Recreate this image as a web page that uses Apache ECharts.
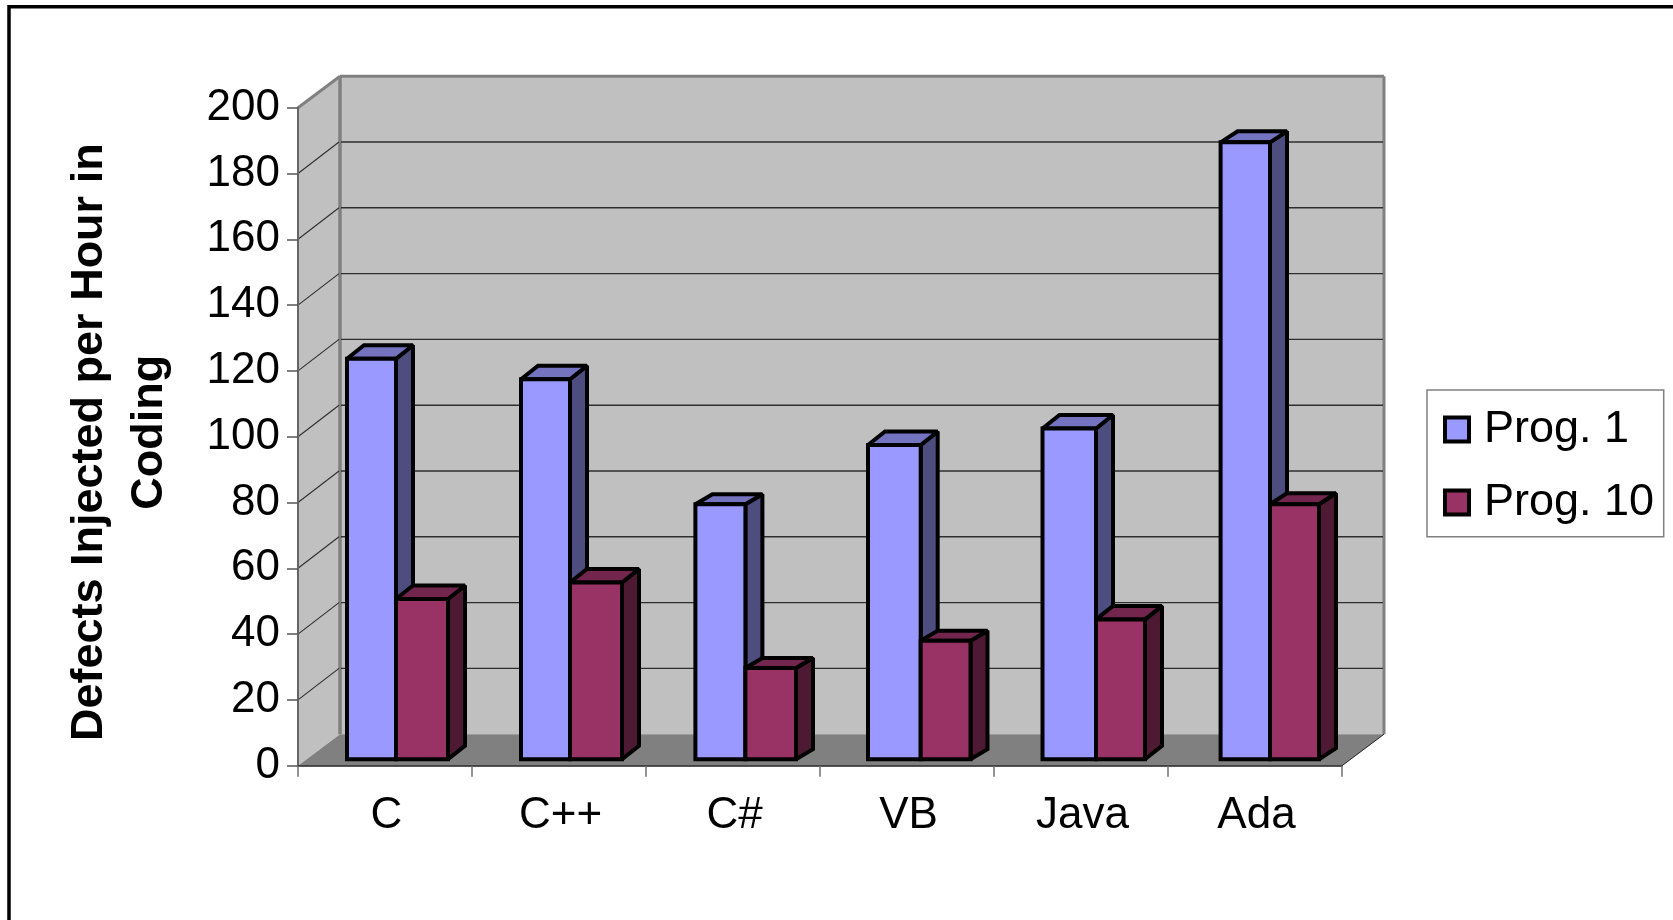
<!DOCTYPE html>
<html>
<head>
<meta charset="utf-8">
<title>Defects Injected per Hour in Coding</title>
<style>
  html, body { margin: 0; padding: 0; background: #fff; }
  #chart { width: 1673px; height: 920px; }
</style>
<script src="https://cdn.jsdelivr.net/npm/echarts@6/dist/echarts.min.js"></script>
</head>
<body>
<div id="chart"></div>
<script>
// Values per language
const categories = ['C', 'C++', 'C#', 'VB', 'Java', 'Ada'];
const prog1 = [121.7, 115.5, 77.5, 95.5, 100.5, 187.5];
const prog10 = [48.7, 53.7, 27.7, 36, 42.5, 77.5];
const yTicks = [0, 20, 40, 60, 80, 100, 120, 140, 160, 180, 200];

const FONT = '"Liberation Sans", Arial, sans-serif';
const WALL = '#C0C0C0', FLOOR = '#808080', FRAME = '#808080', GRID = '#2e2e2e';

// Oblique projection of the plot box: front axes to the rear wall
const DEPTH_X = 42, DEPTH_Y = -31.5;
// Bars stand slightly behind the front edge of the floor
const BASE_LIFT = 6.5;
// Bar edges, as pixel offsets from the left of each category band
const EDGE_LEFT = [49, 49, 49.4, 48, 48.5, 52.6];
const EDGE_MID = [98, 98, 99.4, 100.7, 102, 102];
const EDGE_RIGHT = [150, 150, 150, 150.5, 151, 151];
// Extruded depth of the bars
const BAR_DX = 17;
const BAR_RISE = [[13.5, 13.5, 10, 13.5, 13.5, 11], [13.5, 13.5, 10, 10, 13.5, 11]];

const STROKE = { stroke: '#000', lineWidth: 4, lineJoin: 'miter', miterLimit: 1.5 };

function poly(points, fill) {
  return { type: 'polygon', shape: { points }, style: Object.assign({ fill }, STROKE) };
}

function line(x1, y1, x2, y2, stroke, lineWidth) {
  return { type: 'line', shape: { x1, y1, x2, y2 }, style: { stroke, lineWidth, fill: null } };
}

function bandLeft(api, index) {
  return api.coord([index, 0])[0] - api.size([1, 0])[0] / 2;
}

// Side wall, rear wall and floor of the box
function renderWalls(params, api) {
  const x0 = bandLeft(api, 0);
  const x1 = x0 + api.size([1, 0])[0] * categories.length;
  const yBottom = api.coord([0, 0])[1];
  const yTop = api.coord([0, 200])[1];
  const bx0 = x0 + DEPTH_X, bx1 = x1 + DEPTH_X;
  const fill = (points, color) => ({ type: 'polygon', shape: { points }, style: { fill: color } });
  return {
    type: 'group',
    children: [
      fill([[bx0, yTop + DEPTH_Y], [bx1, yTop + DEPTH_Y], [bx1, yBottom + DEPTH_Y], [bx0, yBottom + DEPTH_Y]], WALL),
      fill([[x0, yTop], [bx0, yTop + DEPTH_Y], [bx0, yBottom + DEPTH_Y], [x0, yBottom]], WALL),
      line(bx0, yTop + DEPTH_Y, bx0, yBottom + DEPTH_Y, FRAME, 3.5),
      line(bx1, yTop + DEPTH_Y, bx1, yBottom + DEPTH_Y, FRAME, 3),
      line(bx0, yTop + DEPTH_Y, bx1, yTop + DEPTH_Y, FRAME, 3),
      line(x0, yTop, bx0, yTop + DEPTH_Y, FRAME, 3),
      fill([[x0, yBottom], [bx0, yBottom + DEPTH_Y], [bx1, yBottom + DEPTH_Y], [x1, yBottom]], FLOOR),
      line(x1, yBottom, bx1, yBottom + DEPTH_Y, '#222', 1)
    ]
  };
}

// One gridline across the side wall and the rear wall
function renderGridline(params, api) {
  const x0 = bandLeft(api, 0);
  const x1 = x0 + api.size([1, 0])[0] * categories.length;
  const y = api.coord([0, api.value(1)])[1];
  const yBack = y + DEPTH_Y;
  return {
    type: 'group',
    children: [
      line(x0, y, x0 + DEPTH_X - 1, yBack, GRID, 1.1),
      line(x0 + DEPTH_X + 1, yBack, x1 + DEPTH_X - 1, yBack, GRID, 1.4)
    ]
  };
}

// A bar with front, top and right faces, sized by the value scale
function barRenderer(seriesIndex, colors) {
  return function (params, api) {
    const i = api.value(0);
    const left = bandLeft(api, i);
    const xa = left + (seriesIndex === 0 ? EDGE_LEFT[i] : EDGE_MID[i]);
    const xb = left + (seriesIndex === 0 ? EDGE_MID[i] : EDGE_RIGHT[i]);
    const yBase = api.coord([i, 0])[1] - BASE_LIFT;
    const yTop = api.coord([i, api.value(1)])[1] - BASE_LIFT;
    const rise = BAR_RISE[seriesIndex][i];
    return {
      type: 'group',
      children: [
        poly([[xb, yTop], [xb + BAR_DX, yTop - rise], [xb + BAR_DX, yBase - rise], [xb, yBase]], colors.side),
        poly([[xa, yTop], [xa + BAR_DX, yTop - rise], [xb + BAR_DX, yTop - rise], [xb, yTop]], colors.top),
        poly([[xa, yTop], [xb, yTop], [xb, yBase], [xa, yBase]], colors.front)
      ]
    };
  };
}

const chart = echarts.init(document.getElementById('chart'), null, { renderer: 'canvas' });

const titleLine = { fontFamily: FONT, fontSize: 45, fontWeight: 'bold', color: '#000', lineHeight: 60 };

chart.setOption({
  animation: false,
  backgroundColor: '#fff',
  textStyle: { fontFamily: FONT, color: '#000' },
  grid: { left: 298, top: 107.7, width: 1044, height: 658 },
  graphic: [
    {
      type: 'rect',
      silent: true,
      shape: { x: 9, y: 6.7, width: 1800, height: 1100 },
      style: { fill: null, stroke: '#000', lineWidth: 3.5 },
      z: -10
    }
  ],
  legend: {
    orient: 'vertical',
    left: 1427,
    top: 390,
    padding: [17, 9.6, 11.7, 16],
    itemGap: 28,
    itemWidth: 24,
    itemHeight: 24,
    icon: 'rect',
    backgroundColor: '#fff',
    borderColor: '#808080',
    borderWidth: 1.5,
    borderRadius: 0,
    selectedMode: false,
    data: ['Prog. 1', 'Prog. 10'],
    itemStyle: { borderColor: '#000', borderWidth: 4 },
    textStyle: { fontFamily: FONT, fontSize: 45, color: '#000', padding: [0, 0, 0, 10] }
  },
  xAxis: {
    type: 'category',
    data: categories,
    z: 5,
    boundaryGap: true,
    axisLine: { lineStyle: { color: '#222', width: 1.5 } },
    axisTick: { show: true, length: 11, alignWithLabel: false, lineStyle: { color: '#707070', width: 1.5 } },
    axisLabel: { fontFamily: FONT, fontSize: 44, color: '#000', margin: 28, interval: 0, padding: [0, 0, 0, 3] },
    splitLine: { show: false }
  },
  yAxis: {
    type: 'value',
    min: 0,
    max: 200,
    interval: 20,
    z: 5,
    name: '{first|Defects Injected per Hour in}\n{second|Coding}',
    nameLocation: 'middle',
    nameGap: 118,
    nameRotate: 90,
    nameTextStyle: {
      fontFamily: FONT, fontSize: 45, fontWeight: 'bold', color: '#000', lineHeight: 60,
      padding: [0, 11, 0, 0],
      rich: {
        first: titleLine,
        second: Object.assign({ padding: [0, 0, 0, 20] }, titleLine)
      }
    },
    axisLine: { show: true, lineStyle: { color: '#666', width: 2 } },
    axisTick: { show: true, length: 11, lineStyle: { color: '#555', width: 1.5 } },
    axisLabel: {
      fontFamily: FONT, fontSize: 44, color: '#000', margin: 18,
      formatter: (v) => (yTicks.includes(v) ? String(v) : '')
    },
    splitLine: { show: false }
  },
  series: [
    {
      id: 'walls',
      type: 'custom',
      silent: true,
      z: 1,
      clip: false,
      data: [[0, 0]],
      encode: { x: 0, y: 1 },
      renderItem: renderWalls
    },
    {
      id: 'gridlines',
      type: 'custom',
      silent: true,
      z: 1,
      clip: false,
      data: yTicks.slice(1, -1).map((v) => [0, v]),
      encode: { x: 0, y: 1 },
      renderItem: renderGridline
    },
    {
      name: 'Prog. 1',
      type: 'custom',
      z: 3,
      clip: false,
      itemStyle: { color: '#9999FF' },
      data: prog1.map((v, i) => [i, v]),
      encode: { x: 0, y: 1 },
      renderItem: barRenderer(0, { front: '#9999FF', top: '#7373BF', side: '#4D4D80' })
    },
    {
      name: 'Prog. 10',
      type: 'custom',
      z: 4,
      clip: false,
      itemStyle: { color: '#993366' },
      data: prog10.map((v, i) => [i, v]),
      encode: { x: 0, y: 1 },
      renderItem: barRenderer(1, { front: '#993366', top: '#73264D', side: '#4D1933' })
    }
  ]
});
</script>
</body>
</html>
